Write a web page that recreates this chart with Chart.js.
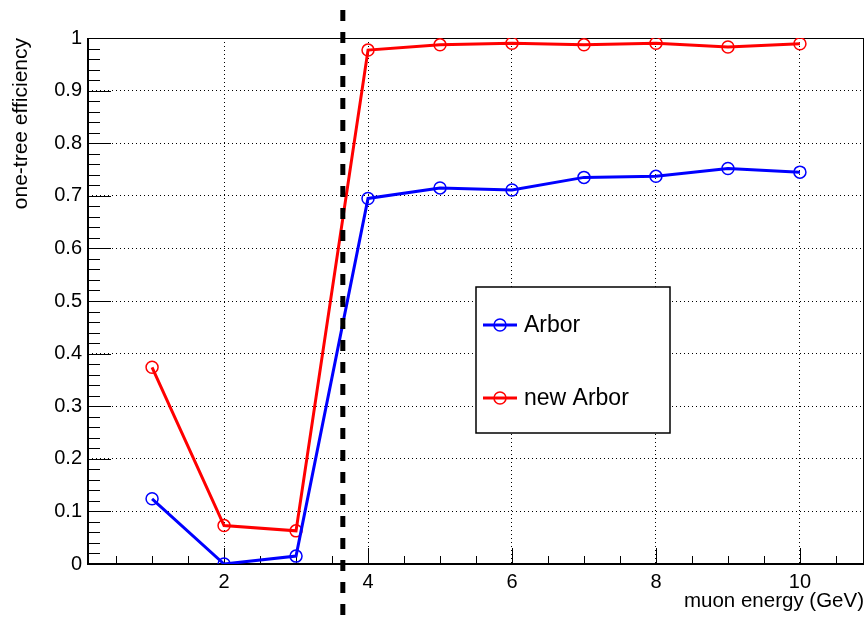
<!DOCTYPE html>
<html>
<head>
<meta charset="utf-8">
<script src="https://cdn.jsdelivr.net/npm/chart.js@4.4.1/dist/chart.umd.min.js"></script>
<style>
  html, body { margin: 0; padding: 0; background: #fff; }
  canvas { display: block; }
</style>
</head>
<body>
<canvas id="myChart" width="866" height="619"></canvas>
<script>
// data
const energy = [1, 2, 3, 4, 5, 6, 7, 8, 9, 10];
const arbor = [0.124, 0.0, 0.015, 0.695, 0.715, 0.711, 0.735, 0.737, 0.752, 0.745];
const newArbor = [0.374, 0.073, 0.063, 0.977, 0.987, 0.990, 0.987, 0.990, 0.983, 0.989];
const xTicks = [2, 4, 6, 8, 10];
const yTicks = [0, 0.1, 0.2, 0.3, 0.4, 0.5, 0.6, 0.7, 0.8, 0.9, 1];
const cutEnergy = 3.65;

const FONT = '"Liberation Sans", Arial, Helvetica, sans-serif';

function points(ys) {
    return energy.map((e, i) => ({ x: e, y: ys[i] }));
}

// ROOT style frame, inner ticks, cut line and legend box
const rootFrame = {
    id: "rootFrame",
    beforeDatasetsDraw(chart) {
        const { ctx, chartArea: a, scales: { x, y } } = chart;
        ctx.save();
        ctx.strokeStyle = "#000";
        ctx.lineWidth = 1;
        ctx.beginPath();
        // x ticks every 0.5
        for (let i = 1; i <= 21; i++) {
            const v = i * 0.5;
            if (v < x.min || v > x.max) continue;
            const px = Math.round(x.getPixelForValue(v)) + 0.5;
            const len = i % 4 === 0 ? 16 : 8;
            ctx.moveTo(px, a.bottom);
            ctx.lineTo(px, a.bottom - len);
        }
        // y ticks every 0.02
        for (let i = 0; i <= 50; i++) {
            const py = Math.round(y.getPixelForValue(i * 0.02)) + 0.5;
            const len = i % 5 === 0 ? 23 : 12;
            ctx.moveTo(a.left, py);
            ctx.lineTo(a.left + len, py);
        }
        ctx.stroke();
        // frame
        ctx.strokeRect(a.left + 0.5, a.top + 0.5, a.right - a.left - 1, a.bottom - a.top);
        ctx.lineWidth = 2;
        ctx.beginPath();
        ctx.moveTo(a.left, a.top);
        ctx.lineTo(a.left, a.bottom);
        ctx.lineTo(a.right, a.bottom);
        ctx.stroke();
        ctx.restore();
    },
    afterDatasetsDraw(chart) {
        const { ctx, scales: { x } } = chart;
        ctx.save();
        // cut line
        const cx = x.getPixelForValue(cutEnergy);
        ctx.strokeStyle = "#000";
        ctx.lineWidth = 5;
        ctx.setLineDash([11, 11]);
        ctx.beginPath();
        ctx.moveTo(cx, 10);
        ctx.lineTo(cx, chart.height);
        ctx.stroke();
        ctx.setLineDash([]);

        // legend
        const box = { l: 476, t: 287, r: 670, b: 433 };
        ctx.fillStyle = "#fff";
        ctx.fillRect(box.l, box.t, box.r - box.l, box.b - box.t);
        ctx.lineWidth = 1.5;
        ctx.strokeRect(box.l, box.t, box.r - box.l, box.b - box.t);
        const rows = [325, 398];
        chart.data.datasets.forEach((ds, i) => {
            const yy = rows[i];
            ctx.strokeStyle = ds.borderColor;
            ctx.lineWidth = 3;
            ctx.beginPath();
            ctx.moveTo(483, yy);
            ctx.lineTo(517, yy);
            ctx.stroke();
            ctx.lineWidth = 1.5;
            ctx.beginPath();
            ctx.arc(500, yy, 6, 0, Math.PI * 2);
            ctx.stroke();
            ctx.fillStyle = "#000";
            ctx.font = "23px " + FONT;
            ctx.textBaseline = "middle";
            ctx.fillText(ds.label, 524, yy + 1);
        });
        ctx.restore();
    },
};

const ctx = document.getElementById("myChart").getContext("2d");
const myChart = new Chart(ctx, {
    type: "line",
    data: {
        datasets: [
            {
                label: "Arbor",
                data: points(arbor),
                borderColor: "#0000ff",
                borderWidth: 3,
                pointRadius: 6,
                pointBorderWidth: 1.5,
                pointBackgroundColor: "rgba(0,0,0,0)",
                pointBorderColor: "#0000ff",
                tension: 0,
            },
            {
                label: "new Arbor",
                data: points(newArbor),
                borderColor: "#ff0000",
                borderWidth: 3,
                pointRadius: 6,
                pointBorderWidth: 1.5,
                pointBackgroundColor: "rgba(0,0,0,0)",
                pointBorderColor: "#ff0000",
                tension: 0,
            },
        ],
    },
    options: {
        responsive: false,
        animation: false,
        layout: { autoPadding: false, padding: { top: 38, right: 2, left: 0, bottom: 0 } },
        plugins: {
            legend: { display: false },
            tooltip: { enabled: false },
        },
        scales: {
            x: {
                type: "linear",
                min: 0.11,
                max: 10.89,
                afterBuildTicks: (s) => {
                    s.ticks = xTicks.map((v) => ({ value: v }));
                },
                afterFit: (s) => {
                    s.height = 55;
                },
                grid: { color: "#000", lineWidth: 1, drawTicks: false },
                border: { display: false, dash: [1, 3] },
                ticks: {
                    color: "#000",
                    font: { family: FONT, size: 20 },
                    padding: 6,
                    maxRotation: 0,
                    autoSkip: false,
                    callback: (v) => String(v),
                },
                title: {
                    display: true,
                    text: "muon energy (GeV)",
                    align: "end",
                    color: "#000",
                    font: { family: FONT, size: 20.5 },
                    padding: { top: 0, bottom: 5 },
                },
            },
            y: {
                min: 0,
                max: 1,
                afterBuildTicks: (s) => {
                    s.ticks = yTicks.map((v) => ({ value: v }));
                },
                afterFit: (s) => {
                    s.width = 88;
                },
                grid: { color: "#000", lineWidth: 1, drawTicks: false },
                border: { display: false, dash: [1, 3] },
                ticks: {
                    color: "#000",
                    font: { family: FONT, size: 20 },
                    padding: 6,
                    autoSkip: false,
                    callback: (v) => String(v),
                },
                title: {
                    display: true,
                    text: "one-tree efficiency",
                    align: "end",
                    color: "#000",
                    font: { family: FONT, size: 21 },
                    padding: { top: 9, bottom: 0 },
                },
            },
        },
    },
    plugins: [rootFrame],
});
</script>
</body>
</html>
